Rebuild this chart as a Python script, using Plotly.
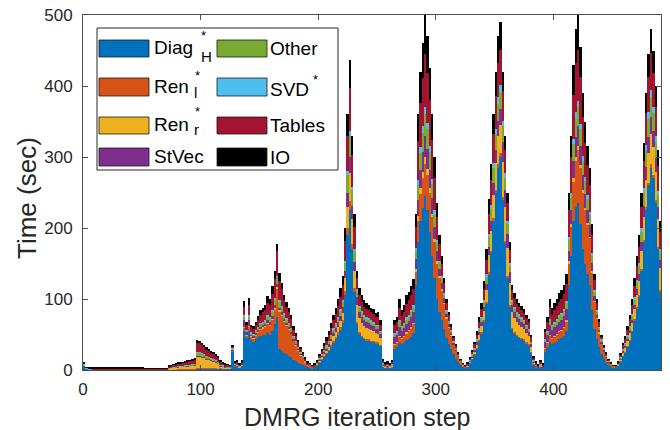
import plotly.graph_objects as go

# DMRG iteration steps (bars cover two iteration steps each)
steps = list(range(1, 492, 2))

diag_h = [
    6, 1.5, .4, .4, .3, .3, .3, .3, .3, .3,
    .3, .3, .3, .3, .3, .3, .3, .3, .3, .3,
    .3, .3, .3, .3, .3, .3, .3, .3, .3, .3,
    .2, .2, .2, .2, .2, .2, .5, .6, .6, .7,
    .8, .8, .9, 1.0, 1.0, 1.1, 1.2, 1.3, 2, 2,
    2, 2, 2, 2, 1.8, 1.8, 1.6, 1.5, 2, 2,
    1.8, 1.8, 1.8, 26, 5, 6, 3.5, 6, 55, 45,
    55, 42, 40, 43, 46, 48, 49, 50, 52, 50,
    55, 65, 75, 30, 27, 24, 22, 20, 18, 14,
    12, 10, 8, 7, 5, 4, 3, 2.5, 4.5, 7,
    11, 15, 19, 23, 27, 33, 39, 44, 50, 57,
    66, 105, 190, 226, 170, 110, 65, 52, 47, 44,
    42, 42, 40, 40, 38, 38, 34, 5, 3.5, 4,
    3, 4, 30, 32, 38, 36, 38, 42, 44, 47,
    52, 120, 180, 210, 228, 245, 225, 195, 160, 130,
    100, 82, 70, 58, 45, 37, 29, 22, 16, 11,
    7, 4.5, 3, 5.5, 10, 15, 22, 30, 41, 52,
    69, 94, 135, 165, 210, 250, 285, 300, 240, 180,
    130, 90, 58, 52, 48, 46, 44, 42, 38, 35,
    25, 8, 4, 3, 4.5, 3, 25, 32, 40, 36,
    38, 40, 43, 45, 48, 55, 120, 160, 210, 230,
    235, 205, 170, 150, 135, 120, 85, 58, 44, 32,
    22, 15, 10, 6.5, 4.5, 3, 3, 6, 12, 20,
    25, 33, 42, 54, 70, 87, 104, 140, 180, 225,
    260, 285, 270, 235, 170, 110,
]

ren_l = [
    0, .3, .4, .4, .4, .4, .4, .4, .4, .4,
    .4, .4, .4, .4, .4, .4, .4, .4, .4, .4,
    .4, .4, .4, .4, .4, .4, .4, .4, .4, .4,
    .3, .3, .3, .3, .3, .3, .2, .2, .2, .3,
    .3, .3, .3, .4, .4, .4, .5, .5, 1, 1,
    1, 1, .8, .8, .7, .7, .6, .5, .5, .4,
    .4, .3, .3, 1, 1, 1, .5, 1, 5, 4,
    6, 5, 5, 6, 7, 9, 10, 11, 13, 13,
    16, 20, 40, 52, 50, 44, 40, 37, 33, 27,
    23, 18, 13, 10, 6, 4, 3, 2, .3, .4,
    .7, 1, 1.1, 1.4, 1.7, 2, 2.3, 2.6, 3, 3.5,
    4, 6, 10, 12, 8, 5, 2, 1, 1, 1,
    1, 1, 1, 1, 1, 1, 1, .5, .5, .5,
    .5, .5, 6, 7, 9, 8, 9, 10, 11, 12,
    13, 18, 30, 38, 42, 45, 50, 55, 55, 50,
    50, 48, 42, 36, 28, 23, 19, 14, 11, 8,
    4.5, 2.5, 1.5, .1, .2, .3, .4, .5, .8, 1,
    1.2, 1.7, 2.4, 3, 4, 4, 5, 5, 3, 2,
    2, 1, 1, 1, 1, 1, 1, 1, 1, 1,
    1, .5, .5, .5, .5, .5, 5, 7, 9, 8,
    9, 10, 11, 11, 12, 14, 30, 42, 55, 65,
    75, 80, 80, 75, 70, 66, 52, 38, 28, 20,
    15, 11, 8, 4.5, 3, 2, 1.5, .2, .3, .4,
    .5, .6, .8, 1, 1.3, 1.6, 2, 2.5, 3, 4,
    4, 5, 4, 4, 3, 2,
]

ren_r = [
    0, .2, .3, .3, .3, .3, .3, .3, .3, .3,
    .3, .3, .3, .3, .3, .3, .3, .3, .3, .3,
    .3, .3, .3, .3, .3, .3, .3, .3, .3, .3,
    .2, .2, .2, .2, .2, .2, 1.8, 2.1, 2.4, 2.7,
    3.0, 3.2, 3.3, 3.6, 3.9, 4.2, 4.5, 5.0, 16, 16,
    15, 14, 12.5, 11.5, 10.5, 9.5, 8.5, 7, 3, 2.5,
    2, 1.7, 1.4, 1, 1, 1, .8, 1, 1, 1,
    1, 1, 1, 1, 1, 1, 1, 1, 1, 1,
    1, 2, 2, 2, 1, 1, 1, 1, 1, 1,
    1, 1, 1, .5, .5, .3, .3, .3, .7, 1.1,
    1.8, 2.4, 3, 3.7, 4.4, 5.3, 6.2, 7, 8, 9,
    10.5, 18, 30, 40, 35, 25, 25, 20, 18, 17,
    16, 15, 15, 14, 13, 12, 10, 1.5, 1, 1,
    1, 1.5, 1, 1, 1, 1, 1, 1, 1, 1,
    1, 4, 7, 8, 9, 10, 8, 6, 5, 4,
    3, 2, 2, 1, 1, 1, 1, .5, .5, .3,
    .2, .1, .1, 1, 1.8, 3, 4, 5.5, 7.5, 9.5,
    12.5, 17, 24, 28, 33, 37, 40, 40, 50, 48,
    40, 32, 22, 20, 18, 17, 16, 15, 13, 12,
    7, 2, 1, .5, 1, .5, 1, 1, 1, 1,
    1, 1, 1, 1, 1, 1, 3, 4, 5, 5,
    5, 4, 3, 3, 2, 2, 2, 1, 1, 1,
    .5, .3, .2, .2, .1, .1, .1, 1.5, 3, 4.5,
    6, 7, 9, 11, 14, 17, 20, 25, 32, 38,
    42, 42, 40, 40, 40, 32,
]

st_vec = [
    .5, .2, .1, .1, .1, .1, .1, .1, .1, .1,
    .1, .1, .1, .1, .1, .1, .1, .1, .1, .1,
    .1, .1, .1, .1, .1, .1, .1, .1, .1, .1,
    .1, .1, .1, .1, .1, .1, .2, .2, .3, .3,
    .3, .3, .3, .4, .4, .4, .5, .5, 1, 1,
    1, 1, .8, .8, .7, .7, .6, .5, .5, .4,
    .3, .3, .3, .5, .5, .5, .4, .5, 10, 3,
    8, 2, 2, 2, 3, 3, 3, 3, 4, 4,
    4, 4, 4, 4, 3, 3, 3, 2, 2, 2,
    1, 1, 1, .5, .5, .3, .2, .2, .5, .8,
    1.3, 1.8, 2.3, 2.8, 3.3, 4, 4.7, 5.3, 6, 7,
    8, 10, 20, 22, 18, 12, 11, 9, 9, 8,
    8, 8, 7, 7, 6, 7, 6, 1, .5, 1,
    .5, 1, 9, 9, 13, 10, 11, 12, 13, 14,
    15, 14, 22, 25, 28, 30, 28, 26, 22, 18,
    14, 10, 8, 6, 5, 4, 3, 2, 2, 1,
    .7, .4, .3, .5, .9, 1.4, 2, 2.8, 3.8, 4.8,
    6.2, 8.5, 12, 14, 17, 19, 21, 22, 28, 24,
    20, 15, 10, 9, 8, 8, 7, 7, 6, 6,
    4, 2, 1, .5, 1, .5, 8, 9, 13, 11,
    12, 12, 13, 14, 15, 16, 15, 20, 25, 28,
    28, 26, 22, 20, 18, 16, 12, 7, 5, 4,
    2.5, 2, 1.3, .8, .5, .4, .3, .6, 1.2, 2,
    2.5, 3.3, 4, 5, 6.5, 8, 9.5, 12.5, 16, 19,
    22, 24, 22, 20, 16, 11,
]

other = [
    .5, .3, .2, .2, .2, .2, .2, .2, .2, .2,
    .2, .2, .2, .2, .2, .2, .2, .2, .2, .2,
    .2, .2, .2, .2, .2, .2, .2, .2, .2, .2,
    .1, .1, .1, .1, .1, .1, .5, .6, .6, .7,
    .8, .9, .9, 1.0, 1.0, 1.1, 1.2, 1.3, 5, 5,
    4.5, 4, 3.7, 3.4, 3, 2.7, 2.4, 2, 1, .8,
    .7, .6, .5, .5, .5, .5, .4, .5, 4, 3,
    5, 2, 2, 3, 3, 4, 4, 4, 5, 5,
    6, 8, 10, 8, 7, 6, 5, 5, 4, 3,
    3, 2, 2, 1.5, 1, .8, .6, .5, .5, .8,
    1.3, 1.8, 2.3, 2.8, 3.3, 4, 4.7, 5.3, 6, 7,
    8, 12, 25, 30, 22, 15, 8, 6, 6, 5,
    5, 5, 5, 4, 4, 4, 3, 1, .5, .5,
    .5, 1, 4, 4, 6, 5, 5, 6, 6, 7,
    7, 12, 22, 25, 27, 30, 28, 25, 20, 17,
    12, 9, 7, 5, 4, 3, 3, 2, 1.5, 1,
    .6, .3, .2, .6, 1, 1.7, 2.4, 3.3, 4.5, 5.7,
    7.5, 10, 14, 17, 20, 22, 24, 25, 22, 17,
    13, 9, 6, 5, 5, 5, 4, 4, 4, 3,
    2, 1, .5, .5, 1, .5, 3, 4, 6, 5,
    5, 6, 6, 6, 7, 8, 15, 18, 23, 26,
    27, 24, 20, 18, 16, 14, 10, 6, 4, 3,
    2, 1.5, 1, .6, .4, .3, .2, .8, 1.5, 2.3,
    3, 3.9, 5, 6, 8, 10, 11.5, 15, 19, 23,
    26, 28, 26, 22, 17, 11,
]

svd = [
    2, .5, .1, .1, .1, .1, .1, .1, .1, .1,
    .1, .1, .1, .1, .1, .1, .1, .1, .1, .1,
    .1, .1, .1, .1, .1, .1, .1, .1, .1, .1,
    .05, .05, .05, .05, .05, .05, .1, .1, .2, .2,
    .2, .2, .2, .2, .3, .3, .3, .3, .5, .5,
    .5, .5, .5, .5, .4, .4, .4, .3, .3, .3,
    .2, .2, .2, 2, .5, .5, .4, .5, 2, 1,
    2, 1, 1, 1, 1, 1, 1, 1, 2, 2,
    2, 2, 2, 2, 2, 2, 2, 1, 1, 1,
    1, 1, .5, .5, .3, .2, .2, .1, .2, .3,
    .4, .6, .8, .9, 1.1, 1.3, 1.6, 1.8, 2, 2.3,
    2.6, 3, 5, 6, 5, 3, 3, 2, 2, 2,
    2, 2, 2, 2, 2, 2, 1, 1, .5, .5,
    .5, 1, 2, 2, 3, 2, 2, 3, 3, 3,
    3, 4, 7, 8, 9, 10, 9, 8, 7, 6,
    4, 3, 3, 2, 2, 1, 1, 1, .5, .4,
    .2, .1, .1, .2, .4, .6, .8, 1.1, 1.5, 1.9,
    2.5, 3.4, 4.8, 6, 7, 8, 9, 9, 8, 6,
    5, 4, 2, 2, 2, 2, 2, 2, 2, 1,
    1, 1, .5, .5, 1, .5, 2, 2, 3, 2,
    3, 3, 3, 3, 3, 3, 5, 6, 8, 9,
    9, 8, 7, 6, 5, 5, 4, 2, 2, 1,
    1, .5, .4, .2, .1, .1, .1, .2, .5, .8,
    1, 1.2, 1.6, 2, 2.6, 3.2, 3.8, 5, 6.4, 8,
    9, 10, 9, 8, 6, 4,
]

tables = [
    .5, .6, 1.2, 1.1, 1.1, 1.1, 1.1, 1.0, 1.0, 1.1,
    1.0, 1.0, 1.0, 1.0, 1.0, 1.0, 1.3, 1.1, 1.0, 1.0,
    1.0, 1.0, 1.0, 1.0, 1.0, 1.0, .9, .9, .9, .9,
    .7, .7, .7, .7, .7, .7, 2.3, 2.7, 3.0, 3.4,
    3.8, 4.0, 4.2, 4.5, 5.0, 5.3, 5.7, 6.3, 13, 12.5,
    11, 10, 9.2, 8.5, 7.7, 7.2, 6.3, 5.7, 4, 3.3,
    2.6, 2.2, 1.8, 2, 1.5, 2, 1.5, 2, 12, 7,
    15, 7, 7, 8, 10, 12, 13, 15, 18, 17,
    23, 27, 34, 28, 24, 18, 16, 15, 13, 9,
    7, 6, 4.5, 3.5, 2.5, 1.6, 1.2, .9, 1.4, 2.1,
    3.3, 4.5, 5.7, 6.9, 8.3, 9.9, 11.7, 13.2, 15, 17,
    20, 28, 50, 61, 45, 32, 16, 15, 13, 12,
    12, 11, 11, 11, 10, 11, 9, 3, 2, 2,
    1.5, 2.5, 11, 12, 18, 14, 16, 19, 20, 21,
    23, 30, 55, 62, 68, 75, 70, 65, 55, 45,
    33, 23, 18, 14, 9, 8, 5, 4, 3, 2,
    1.1, .7, .5, 1.2, 2.1, 3.4, 4.8, 6.6, 9, 11.4,
    15, 20, 28, 34, 41, 46, 49, 50, 42, 33,
    25, 18, 13, 12, 11, 10, 10, 9, 9, 9,
    6, 3.5, 2.5, 1.5, 2.5, 2, 9, 12, 17, 15,
    17, 18, 19, 20, 21, 24, 38, 50, 62, 70,
    72, 66, 55, 48, 43, 38, 25, 15, 10, 7,
    4.5, 3, 2, 1.4, .9, .7, .5, 1.6, 3.3, 4.8,
    6, 7.6, 9.6, 12, 16, 19, 22.5, 30, 38, 45,
    50, 52, 48, 42, 35, 25,
]

io = [
    .5, .6, .5, .5, .5, .6, .5, .5, .5, .6,
    .5, .5, .5, .5, .5, .5, .7, .5, .5, .5,
    .5, .5, .5, .5, .5, .5, .5, .5, .5, .5,
    .4, .4, .4, .4, .4, .4, .5, .5, .7, .7,
    .8, .8, .9, .9, 1.0, 1.2, 1.1, 1.3, 3.5, 3,
    3, 2.5, 2.5, 2.5, 2.2, 2, 1.6, 1.5, 1.7, 1.3,
    1, .9, .7, 1, 2, 2.5, 1.5, 2.5, 8, 4,
    10, 4, 4, 4, 5, 6, 7, 7, 9, 8,
    11, 12, 10, 10, 8, 7, 7, 7, 6, 5,
    4, 3, 2, 1.5, 1.2, .8, .5, .5, .9, 1.5,
    2.2, 2.9, 3.8, 4.5, 5.9, 6.5, 7.8, 8.8, 10, 12,
    13, 18, 30, 40, 27, 18, 10, 10, 9, 9,
    8, 8, 7, 7, 6, 7, 6, 2, 1.5, 2.5,
    1.5, 2.5, 7, 8, 12, 9, 10, 12, 12, 13,
    14, 18, 37, 44, 49, 55, 52, 45, 36, 30,
    19, 13, 10, 8, 6, 5, 4, 2.5, 1.5, 1.3,
    .7, .4, .3, .9, 1.6, 2.6, 3.6, 5.2, 6.9, 8.7,
    11.1, 15.4, 20, 23, 28, 34, 37, 39, 27, 20,
    15, 11, 8, 7, 7, 6, 6, 6, 5, 5,
    4, 2, 2, 1, 2.5, 1.5, 5, 8, 11, 10,
    10, 10, 12, 12, 13, 14, 24, 30, 42, 47,
    49, 42, 33, 30, 26, 24, 15, 8, 6, 4,
    2.5, 1.7, 1.1, .8, .5, .4, .3, 1.1, 2.2, 3.2,
    4, 5.4, 6, 9, 11.6, 14.2, 16.7, 20, 25.6, 28,
    32, 34, 31, 29, 23, 15,
]

series = [
    ("Diag_H", diag_h, "#0072BD"),
    ("Ren_l", ren_l, "#D95319"),
    ("Ren_r", ren_r, "#EDB120"),
    ("StVec", st_vec, "#7E2F8E"),
    ("Other", other, "#77AC30"),
    ("SVD", svd, "#4DBEEE"),
    ("Tables", tables, "#A2142F"),
    ("IO", io, "#000000"),
]
bad = [(n, len(v)) for n, v, _ in series if len(v) != len(steps)]
if bad:
    raise SystemExit(f"length mismatch: {bad} vs {len(steps)}")

fig = go.Figure()
for name, vals, col in series:
    fig.add_trace(go.Bar(x=steps, y=vals, width=2, name=name, showlegend=False,
                         marker=dict(color=col, line=dict(width=0))))

FONT = "Liberation Sans, Arial, Helvetica, sans-serif"
TXT = "#262626"
L, R, T, B = 83, 661, 15, 370

def fx(x):
    return (x - L) / (R - L)

def fy(y):
    return (B - y) / (B - T)

shapes = []
annotations = []
# legend box
shapes.append(dict(type="rect", xref="paper", yref="paper", x0=fx(97), x1=fx(338),
                   y0=fy(170), y1=fy(28), fillcolor="white",
                   line=dict(color="#262626", width=1), layer="above"))
rows = [(40, 57), (78, 96), (117, 134), (148, 166)]
left_items = [("Diag", "*", "H", "#0072BD"), ("Ren", "*", "l", "#D95319"),
              ("Ren", "*", "r", "#EDB120"), ("StVec", None, None, "#7E2F8E")]
right_items = [("Other", None, None, "#77AC30"), ("SVD", "*", None, "#4DBEEE"),
               ("Tables", None, None, "#A2142F"), ("IO", None, None, "#000000")]
text_centers = [48, 86.5, 124.5, 156]
sup_pos_left = [(199, 35), (193, 75), (193, 112)]
sub_pos_left = [(199, 57), (192, 92), (192, 129)]
for k, ((y0, y1), item) in enumerate(zip(rows, left_items)):
    shapes.append(dict(type="rect", xref="paper", yref="paper", x0=fx(99), x1=fx(149),
                       y0=fy(y1), y1=fy(y0), fillcolor=item[3],
                       line=dict(color="#1a1a1a", width=0.8), layer="above"))
    annotations.append(dict(text=item[0], x=fx(152), y=fy(text_centers[k]), xref="paper", yref="paper",
                            xanchor="left", yanchor="middle", showarrow=False,
                            font=dict(family=FONT, size=19, color="black")))
    if item[1]:
        sx, sy = sup_pos_left[k]
        annotations.append(dict(text=item[1], x=fx(sx), y=fy(sy), xref="paper", yref="paper",
                                xanchor="left", yanchor="middle", showarrow=False,
                                font=dict(family=FONT, size=13, color="black")))
    if item[2]:
        bx, by = sub_pos_left[k]
        annotations.append(dict(text=item[2], x=fx(bx), y=fy(by), xref="paper", yref="paper",
                                xanchor="left", yanchor="middle", showarrow=False,
                                font=dict(family=FONT, size=15, color="black")))
right_centers = [49, 89, 125, 157]
for k, ((y0, y1), item) in enumerate(zip(rows, right_items)):
    shapes.append(dict(type="rect", xref="paper", yref="paper", x0=fx(217), x1=fx(267),
                       y0=fy(y1), y1=fy(y0), fillcolor=item[3],
                       line=dict(color="#1a1a1a", width=0.8), layer="above"))
    annotations.append(dict(text=item[0], x=fx(268), y=fy(right_centers[k]), xref="paper", yref="paper",
                            xanchor="left", yanchor="middle", showarrow=False,
                            font=dict(family=FONT, size=19, color="black")))
    if item[1]:
        annotations.append(dict(text=item[1], x=fx(311), y=fy(80), xref="paper", yref="paper",
                                xanchor="left", yanchor="middle", showarrow=False,
                                font=dict(family=FONT, size=13, color="black")))

# axis titles
annotations.append(dict(text="DMRG iteration step", x=fx(357), y=fy(417), xref="paper", yref="paper",
                        xanchor="center", yanchor="middle", showarrow=False,
                        font=dict(family=FONT, size=25, color=TXT)))
annotations.append(dict(text="Time (sec)", x=fx(27), y=fy(198), xref="paper", yref="paper",
                        xanchor="center", yanchor="middle", showarrow=False, textangle=-90,
                        font=dict(family=FONT, size=26, color=TXT)))

fig.update_layout(
    barmode="stack", bargap=0, width=670, height=430,
    margin=dict(l=L, r=670 - R, t=T, b=430 - B),
    plot_bgcolor="white", paper_bgcolor="white",
    font=dict(family=FONT, color=TXT),
    shapes=shapes, annotations=annotations,
    xaxis=dict(range=[0, 491.5], tickvals=[0, 100, 200, 300, 400], ticks="inside", ticklen=5,
               tickcolor="#4d4d4d", showline=True, linecolor="#4d4d4d", linewidth=1, mirror="ticks",
               showgrid=False, zeroline=False, tickfont=dict(size=17, color=TXT),
               ticklabelstandoff=4, automargin=False),
    yaxis=dict(range=[0, 500], tickvals=[0, 100, 200, 300, 400, 500], ticks="inside", ticklen=5,
               tickcolor="#4d4d4d", showline=True, linecolor="#4d4d4d", linewidth=1, mirror="ticks",
               showgrid=False, zeroline=False, tickfont=dict(size=17, color=TXT),
               ticklabelstandoff=6, automargin=False),
)

fig.write_html("out.html", config={"displayModeBar": False},
               post_script="document.body.style.margin='0';document.body.style.padding='0';")
